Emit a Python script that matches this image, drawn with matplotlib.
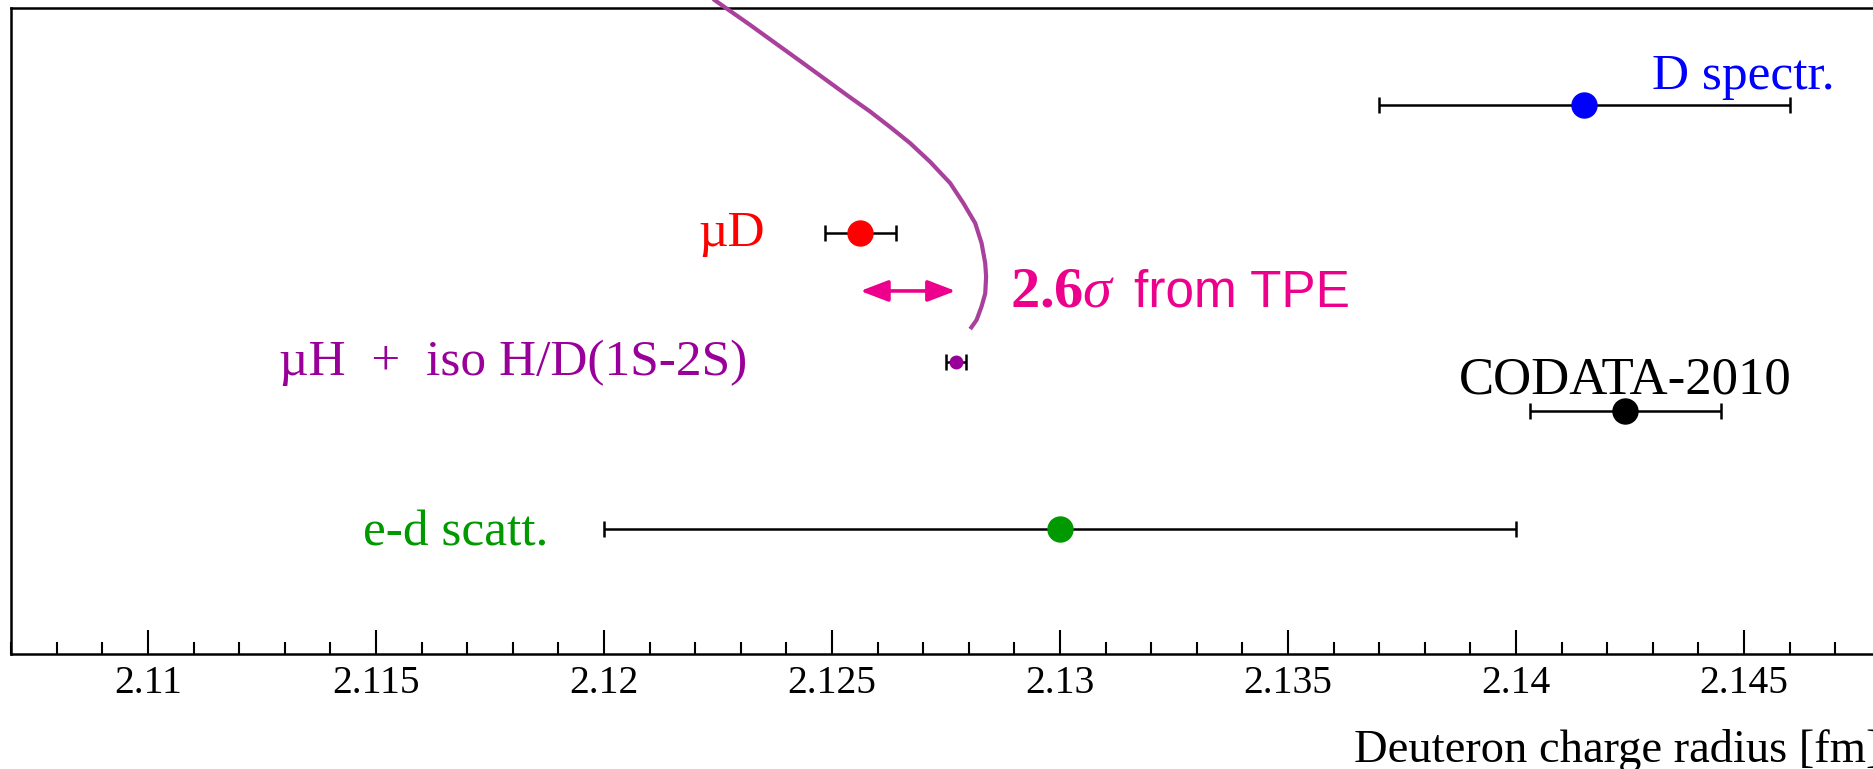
import matplotlib
matplotlib.use("Agg")
import matplotlib.pyplot as plt
from matplotlib.ticker import MultipleLocator, FuncFormatter

plt.rcParams['font.family'] = ['Liberation Serif', 'DejaVu Serif']
plt.rcParams['mathtext.fontset'] = 'custom'
plt.rcParams['mathtext.rm'] = 'Liberation Serif'
plt.rcParams['mathtext.it'] = 'Liberation Serif:italic'
plt.rcParams['mathtext.bf'] = 'Liberation Serif:bold'

# rayon de charge du deuteron [fm]
labels = ["D spectr.", "\u00b5D", "\u00b5H  +  iso H/D(1S-2S)", "CODATA-2010", "e-d scatt."]
radius = [2.1415, 2.12562, 2.12771, 2.1424, 2.130]
errors = [0.0045, 0.00078, 0.00022, 0.0021, 0.010]

# courbe (contrainte TPE)
curve_r = [2.12213, 2.12243, 2.12320, 2.12430, 2.12539, 2.12583, 2.12627, 2.12671, 2.12715,
           2.12759, 2.12788, 2.12814, 2.12828, 2.12836, 2.12838, 2.12836, 2.12828, 2.12817,
           2.12803]
curve_y = [10.28, 10.12, 9.74, 9.18, 8.62, 8.40, 8.16, 7.91, 7.62,
           7.29, 6.98, 6.67, 6.36, 6.05, 5.84, 5.58, 5.38, 5.17,
           5.03]

tpe_text = "2.6"

# mise en page
rows = [8.50, 6.52, 4.52, 3.76, 1.94]
colors = ["#0000ff", "#ff0000", "#990099", "#000000", "#009900"]
msizes = [18, 18, 9, 18, 18]
fsizes = [37, 37, 37, 38, 37]
label_x = [2.14298, 2.12206, 2.11287, 2.13875, 2.11472]
label_y = [8.746, 6.316, 4.319, 4.025, 1.687]
pink = "#ec008c"

W, H = 1873, 769
fig = plt.figure(figsize=(W / 100, H / 100), dpi=100)
ax = fig.add_axes([11.2 / W, (H - 654) / H, 1915.2 / W, 646 / H])
ax.set_xlim(2.107, 2.149)
ax.set_ylim(0, 10)

for i in range(len(labels)):
    ax.errorbar(radius[i], rows[i], xerr=errors[i], fmt='none', ecolor='black',
                elinewidth=1.8, capsize=5.5, capthick=1.8, zorder=2)
    ax.plot(radius[i], rows[i], 'o', ms=msizes[i], color=colors[i], mec=colors[i], zorder=3)
    ax.text(label_x[i], label_y[i], labels[i], color=colors[i], fontsize=fsizes[i],
            ha='left', va='baseline')

ax.plot(curve_r, curve_y, color='#a8409c', lw=3, clip_on=False, zorder=4,
        solid_capstyle='butt', solid_joinstyle='round')

# fleche entre muD et muH
ax.annotate('', xy=(radius[2], 5.62), xytext=(radius[1], 5.62),
            arrowprops=dict(arrowstyle='<|-|>,head_length=1.7,head_width=0.65',
                            mutation_scale=10, lw=2.6, color=pink,
                            shrinkA=0, shrinkB=0))
ax.text(2.12890, 5.372, r"$\mathbf{" + tpe_text + r"}\sigma$", color=pink, fontsize=42,
        ha='left', va='baseline')
ax.text(2.13162, 5.372, "from TPE", color=pink, fontsize=37, family='Liberation Sans',
        ha='left', va='baseline')

ax.xaxis.set_major_locator(MultipleLocator(0.005))
ax.xaxis.set_minor_locator(MultipleLocator(0.001))
ax.xaxis.set_major_formatter(FuncFormatter(lambda v, p: "%g" % round(v, 4)))
ax.tick_params(axis='x', which='major', direction='in', length=17, width=1.5,
               labelsize=28.5, pad=8, top=False)
ax.tick_params(axis='x', which='minor', direction='in', length=8.6, width=1.5, top=False)
ax.tick_params(axis='y', which='both', left=False, labelleft=False)
for s in ax.spines.values():
    s.set_linewidth(1.8)

# titre de l'axe, coupe au bord droit comme dans l'original
fig.text(1354 / W, (H - 762) / H, "Deuteron charge radius [fm]", fontsize=33.5,
         ha='left', va='baseline')

fig.savefig("out.png", dpi=100)
